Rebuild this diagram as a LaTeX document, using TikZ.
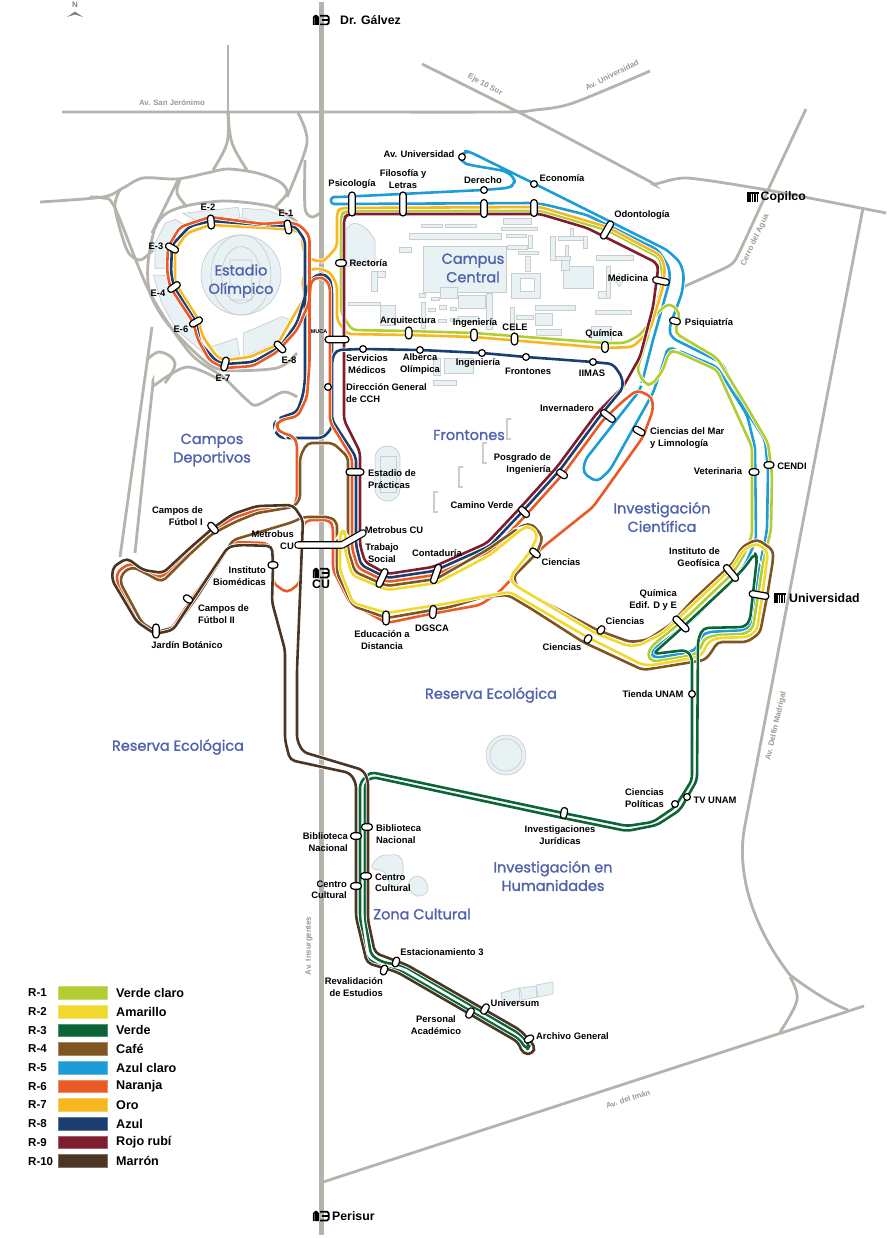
\documentclass[tikz,border=0pt]{standalone}
\usepackage{fontspec}
\setmainfont{Liberation Sans}
\newfontfamily\areafont[FakeBold=1.4]{Poppins}
\usetikzlibrary{shapes.misc}
\definecolor{cOne}{HTML}{B2CD34}
\definecolor{cTwo}{HTML}{F0D82C}
\definecolor{cThree}{HTML}{0B6536}
\definecolor{cFour}{HTML}{7F5522}
\definecolor{cFive}{HTML}{1E9CD7}
\definecolor{cSix}{HTML}{E95A26}
\definecolor{cSeven}{HTML}{F7B71E}
\definecolor{cEight}{HTML}{1B3E70}
\definecolor{cNine}{HTML}{7E1D2E}
\definecolor{cTen}{HTML}{4B3624}
\definecolor{roadgray}{HTML}{B4B3AC}
\definecolor{bldg}{HTML}{E8F2F5}
\definecolor{bldgline}{HTML}{C9CDCC}
\definecolor{areablue}{HTML}{4F62AD}
\tikzset{
  route/.style={draw=#1,line width=2.6pt,line join=round,rounded corners=5pt,
    preaction={draw=white,line width=4.2pt}},
  road/.style={draw=roadgray,line width=2.8pt},
  bld/.style={draw=bldgline,fill=bldg,line width=.7pt},
  capsule/.style n args={2}{rounded rectangle,draw=black,fill=white,line width=1.2pt,
    inner sep=0pt,minimum height=6.4pt,minimum width=#1pt,rotate=#2},
  dot/.style={circle,draw=black,fill=white,line width=1.2pt,inner sep=0pt,minimum size=6.8pt},
  lbl/.style={font=\fontsize{9.4}{11.5}\selectfont\bfseries,inner sep=0pt,align=center},
  lblr/.style={lbl,anchor=east,align=right},
  lbll/.style={lbl,anchor=west,align=left},
  big/.style={font=\fontsize{12.3}{14}\selectfont\bfseries,inner sep=0pt},
  area/.style={font=\fontsize{14.5}{18.5}\selectfont\areafont,text=areablue,inner sep=0pt,align=center},
  street/.style={font=\fontsize{7.8}{9}\selectfont\bfseries,text=roadgray!85!black,inner sep=0pt},
}
% metrobus and metro signs
\newcommand{\mbsign}[1]{\begin{scope}[shift={(#1)}]
\draw[line width=1.7pt,rounded corners=1.6pt] (.8,10)--(.8,.8)--(5,.8)--(5,10) (3,.8)--(3,10);
\draw[line width=1.7pt,rounded corners=1.6pt] (7.2,.8)--(15.8,.8)--(15.8,9.4)--(7.2,9.4) (9,5)--(15.5,5);
\end{scope}}
\newcommand{\metrosign}[1]{\begin{scope}[shift={(#1)}]
\fill (0,0) rectangle (11.5,2);
\foreach \k in {0,2.4,4.8,7.2,9.6}{\fill (\k,0) rectangle ++(1.6,10);}
\end{scope}}
\begin{document}
\begin{tikzpicture}[x=1pt,y=-1pt]
\useasboundingbox (0,0) rectangle (886,1238);
% roads
\draw[draw=roadgray,line width=5.6pt] (321.5,2)--(321.5,1235);
\draw[road] plot[smooth,tension=.5] coordinates {(62,112)(300,112)(500,112)(535,110)(573,103)(650,71)};
\draw[road] plot[smooth,tension=.4] coordinates {(422,64)(530,118)(647,180)(655,184)(687,178)(767,190)(886,213)};
\draw[road] plot[smooth,tension=.3] coordinates {(806,109)(768,190)(737,257)(727,267)(683,287)};
\draw[road] (863,208)--(745,825) .. controls (735,875) and (755,930) .. (790,975) .. controls (810,990) and (830,1003) .. (848,1010);
\draw[road] plot[smooth,tension=.6] coordinates {(790,977)(797,1000)(780,1032)};
\draw[road] (864,1006)--(323,1182);
\draw[road] (228,45)--(228,112);
\draw[road] plot[smooth,tension=.6] coordinates {(228,112)(227,143)(213,170)};
\draw[road] plot[smooth,tension=.6] coordinates {(228,112)(232,143)(247,170)};
\draw[road] plot[smooth,tension=.5] coordinates {(40,202)(103,197)(123,188)(143,178)(177,179)(207,173)(228,169)(257,173)(280,182)(287,193)(275,207)};
\draw[road] plot[smooth,tension=.6] coordinates {(180,180)(177,193)(187,207)};
\draw[road] plot[smooth,tension=.5] coordinates {(297,222)(273,207)(227,201)(190,205)(167,213)(155,228)(148,263)(150,293)(167,323)(200,357)(223,370)(277,368)(297,353)};
\draw[road] (178,180)--(152,233);
\draw[road] plot[smooth,tension=.5] coordinates {(120,190)(115,208)(127,250)(140,260)(153,250)};
\draw[road] plot[smooth,tension=.5] coordinates {(90,197)(103,198)(115,208)(150,293)(190,353)(223,377)(247,400)(257,405)(283,392)(297,397)};
\draw[road] (152,327)--(120,557);
\draw[road] plot[smooth,tension=.5] coordinates {(135,553)(152,393)(155,385)(187,367)(220,380)};
\draw[road] plot[smooth,tension=.7] coordinates {(147,360)(160,352)(175,363)(165,383)};
\draw[road] plot[smooth,tension=.5] coordinates {(298,113)(307,143)(287,197)};
\draw[road] plot[smooth,tension=.5] coordinates {(305,160)(305,208)(312,217)(320,213)};
% buildings of the campus
\begin{scope}[shift={(320,140)},x=.3333pt,y=-.3333pt]
\foreach \ax/\ay/\bx/\by in {305/252/368/262,375/252/470/262,268/280/543/297,550/235/635/252,545/262/652/272,
  560/283/620/292,237/322/275/337,562/315/622/327,625/285/637/325,595/333/655/343,615/350/630/393,
  310/320/558/458,575/400/660/475,830/345/940/360,730/378/820/445,858/378/870/475,835/455/858/475,
  155/395/172/455,172/395/195/413,85/488/180/497,180/495/225/555,362/443/412/475,415/465/497/505,
  500/460/518/568,297/460/317/472,335/472/357/482,357/497/380/507,390/502/410/512,325/505/345/515,
  305/487/315/565,355/537/380/547,390/535/412/545,415/530/475/545,572/503/583/570,590/527/640/538,
  645/495/767/512,645/520/697/557,650/568/723/585,825/510/935/522,815/558/875/605,
  692/290/705/360,705/348/750/360,725/362/748/390,735/315/745/350,715/290/790/302,750/265/760/290,
  790/290/802/325,340/655/362/705,372/655/460/700,340/720/410/735}
  {\draw[bld] (\ax,\ay) rectangle (\bx,\by);}
\draw[bld,fill=white] (600,415) rectangle (643,455);
\draw[bld] (898,400)--(912,420)--(898,440)--(884,420)--cycle;
\draw[bld] (78,380)--(78,270)..controls (90,240) and (130,240) ..(165,300)--(165,370)--cycle;
\end{scope}
% stadium
\begin{scope}[shift={(100,130)},x=.3333pt,y=-.3333pt]
\draw[bld] (248,250)--(415,232)--(420,265)--(285,270)--cycle;
\draw[bld] (428,235)--(500,240)--(580,270)--(605,285)--(500,285)--(425,262)--cycle;
\draw[bld] (165,340)--(195,280)--(225,268)--(255,285)--(215,330)--(210,415)--(165,415)--cycle;
\draw[bld] (160,435)--(205,437)--(225,480)--(290,575)--(300,640)--(335,690)--(230,600)--(185,520)--cycle;
\draw[bld] (335,650)--(410,625)--(420,680)--(360,690)--cycle;
\draw[bld] (430,610)--(545,560)--(575,570)--(530,640)--(430,680)--cycle;
\draw[bld] (423,435) circle (120);
\draw[draw=bldgline,line width=.7pt] (423,435) ellipse (90 and 120) (423,435) ellipse (58 and 85) (390,390) rectangle (455,510);
\end{scope}
% other shapes
\draw[bld,rounded corners=12pt] (375,446) rectangle (400,501);
\draw[bld] (380,456) rectangle (396,492);
\draw[bld] (506,755) circle (20);
\draw[draw=bldgline,line width=.7pt] (506,755) circle (16);
\draw[bld] plot[smooth cycle,tension=.7] coordinates {(388,855)(401,858)(402,878)(392,886)(384,872)(372,868)(378,858)};
\draw[bld] plot[smooth cycle,tension=.7] coordinates {(418,876)(426,882)(427,892)(417,896)(409,888)(410,880)};
\draw[bld] (501,993)--(519,988)--(520,1000)--(503,1006)--cycle (520,988)--(536,986)--(537,997)--(522,1000)--cycle (536,985)--(553,982)--(553,994)--(538,997)--cycle;
\foreach \bx/\by in {507/419,483/443,459/467,434/492}
  {\draw[draw=bldgline,line width=1.3pt] (\bx+4,\by)--(\bx,\by)--(\bx,\by+20)--(\bx+4,\by+20);}
% routes
\draw[route=cFive] (340,204)--(533,203)--(547,205)--(587,215)--(658,250)--(669,267)--(670,280)--(653,340)--(640,390)--(585,460)--(583,473)--(597,482)--(610,470)--(653,393)--(662,367)--(668,347)--(677,350)--(717,367)--(747,415)--(755,447)--(756,540)--(745,565)--(733,580)--(690,622)--(655,648)--(651,654)--(656,658)--(690,652)--(697,648)--(701,636)--(708,632)--(745,630)--(751,624)--(760,565)--(767,530)--(768,470)--(765,440)--(747,412)--(722,363)--(672,338)--(669,330)--(672,320)--(682,293)--(684,275)--(680,262)--(667,250)--(533,183)--(470,152)--(465,151)--(460,157)--(463,163)--(470,165)--(505,171)--(515,178)--(514,185)--(508,188)--(483,190)--(340,197)[rounded corners=3pt]--(331,197)--(331,204)--cycle;
\draw[route=cOne] (345,211)--(341,215)--(341,313)--(352,330)--(408,331)--(474,333)--(605,343)--(625,343)--(640,335)--(660,310)--(670,303)--(680,313)--(675,333)--(717,358)--(747,407)--(768,443)--(772,475)--(771,530)--(763,563)--(753,628)--(745,634)--(717,635)--(705,638)--(698,653)--(688,656)--(652,662)--(647,654)--(653,645)--(687,617)--(733,573)--(745,553)--(752,535)--(752,447)--(717,370)--(675,351)--(669,352)--(663,370)--(652,385)--(645,384)--(637,370)--(653,320)--(663,280)--(660,258)--(607,230)--(540,211)--cycle;
\draw[route=cSeven] (341,208)--(337,212)--(337,247)--(325,260)--(320,262)--(308,258)--(303,250)--(302,235)--(296,230)--(267,228)--(210,225)--(187,233)--(175,250)--(175,283)--(197,317)--(203,337)--(217,357)--(225,360)--(250,357)--(277,345)--(293,317)--(305,297)--(302,280)--(307,271)--(317,268)--(330,272)--(337,285)--(337,320)--(347,334)--(408,335)--(474,337)--(605,348)--(633,347)--(650,330)--(663,287)--(665,267)--(660,255)--(607,227)--(540,207)--cycle;
\draw[route=cNine] (348,214)--(344,218)--(344,420)--(360,452)--(360,545)--(365,562)--(387,574)--(433,567)--(487,543)--(520,508)--(557,467)--(597,413)--(623,387)--(640,357)--(653,307)--(658,270)--(657,263)--(587,228)--(540,214)--cycle;
\draw[route=cEight] (305,240)--(295,226)--(265,225)--(211,221)--(190,226)--(172,245)--(171,273)--(174,287)--(196,322)--(200,343)--(217,362)--(226,364)--(253,362)--(280,347)--(297,323)--(306,293)--(310,280)--(320,273)--(330,278)--(332,290)--(332,428)--(323,438)--(280,438)--(273,428)--(276,420)--(282,417)--(297,412)--(303,395)--(305,380)--cycle;
\draw[route=cEight] (332,360)--(336,350)--(363,349)--(420,350)--(482,353)--(526,357)--(593,362)--(613,364)--(622,377)--(623,388)--(600,416)--(560,470)--(523,511)--(490,546)--(434,571)--(387,578)--(361,565)--(356,545)--(356,457)--(332,420)--cycle;
\draw[route=cSix] (330,287)--(326,279)--(318,277)--(311,281)--(309,303)--(297,330)--(277,352)--(253,366)--(225,368)--(210,361)--(198,340)--(193,322)--(170,287)--(167,270)--(168,247)--(180,227)--(210,217)--(263,224)--(287,222)--(300,225)--(309.5,236)--(309.5,363)--(307,397)--(298,416)--(278,421)--(276,428)--(282,433)--(293,436)--(297,443)--(297,500)--(292,508)--(257,510)--(233,518)--(213,531)--(190,550)--(161,578)--(145,572)--(130,563)--(117,572)--(117,582)--(138,623)--(155,633)--(173,627)--(193,597)--(232,542)--(267,543)--(273,550)--(273,583)--(287,593)--(300,583)--(302,527)--(307,520)--(330,520)--(333,527)--(333,570)--(350,603)--(387,623)--(430,614)--(480,605)--(498,593)--(543,547)--(593,507)--(643,437)--(653,410)--(652,397)--(637,390)--(622,402)--(603,420)--(564,473)--(527,514)--(493,550)--(435,575)--(387,582)--(358,568)--(352,548)--(352,458)--(330,422)--cycle;
\draw[route=cFour] (348,457)--(333,443)--(307,443)--(300,457)--(300,500)--(293,507)--(257,513)--(235,522)--(212,534)--(190,554)--(162,582)--(145,573)--(133,567)--(123,572)--(120,582)--(142,623)--(157,632)--(175,627)--(197,597)--(233,540)--(293,522)--(303,517)--(330,517)--(337,522)--(337,573)--(353,606)--(387,618)--(450,607)--(483,597)--(508,595)--(530,608)--(583,642)--(643,670)--(693,662)--(705,660)--(713,650)--(717,642)--(747,642)--(760,633)--(767,597)--(773,560)--(773,550)--(757,539)--(742,547)--(733,563)--(693,600)--(670,625)--(647,640)--(630,642)--(597,630)--(518,588)--(513,577)--(537,553)--(543,537)--(532,524)--(523,525)--(487,550)--(436,579)--(387,586)--(355,572)--(348,550)--cycle;
\draw[route=cTwo] (340,535)--(343,530)--(346,535)--(345,550)--(352,575)--(387,590)--(437,583)--(490,555)--(523,528)--(530,526)--(538,535)--(530,552)--(510,577)--(513,584)--(595,633)--(628,646)--(640,645)--(663,633)--(687,610)--(733,567)--(743,550)--(757,543)--(768,552)--(762,597)--(757,630)--(748,637)--(717,638)--(708,642)--(702,655)--(693,658)--(653,665)--(643,665)--(587,637)--(510,592)--(480,597)--(450,603)--(387,613)--(353,603)--(340,570)--cycle;
\draw[route=cThree] (692,694)--(692,657)--(686,650)--(653,654)--(683,627)--(730,583)--(745,567)--(755,553)--(757,558)--(750,620)--(745,627)--(703,628)--(698,640)--(697,780)--(680,810)--(657,825)--(627,831)--(563,818)--(372,777)--(365,783)--(365,918)--(371,955)--(382,962)--(404,966)--(520,1034)--(530,1045)--(527,1050)--(519,1039)--(401,971)--(379,966)--(366,958)--(360,918)--(360,783)--(370,772)--(563,813)--(627,826)--(653,822)--(675,807)--(692,780)--cycle;
\draw[route=cTen] (297,670)--(303,520)--(293,505)--(257,506)--(233,514)--(213,528)--(190,548)--(163,573)--(143,570)--(127,558)--(113,567)--(112,580)--(137,622)--(155,634)--(173,630)--(188,607)--(228,547)--(240,545)--(272,546)--(273,565)--(272,602)--(285,650)--(285,740)--(290,760)--(350,773)--(356,783)--(356,917)--(367,963)--(397,972)--(518,1042)--(523,1054)--(533,1054)--(535,1046)--(520,1030)--(407,965)--(375,953)--(368,920)--(368,780)--(363,770)--(303,752)--(297,740)--cycle;
% stops
\node[capsule={14}{100}] (eOne) at (288,227) {};
\node[capsule={14}{95}] (eTwo) at (211,222) {};
\node[capsule={14}{-30}] (eThree) at (172,248) {};
\node[capsule={14}{35}] (eFour) at (174,287) {};
\node[capsule={14}{30}] (eSix) at (196,322) {};
\node[capsule={14}{75}] (eSeven) at (225,364) {};
\node[capsule={14}{-45}] (eEight) at (280,347) {};
\node[capsule={24}{0}] (sMuca) at (337,339.5) {};
\node[capsule={11}{0}] (sRectoria) at (341,263) {};
\node[dot] (sCch) at (328,387) {};
\node[dot] (sServicios) at (363,349) {};
\node[dot] (sAlberca) at (420,350) {};
\node[dot] (sIngDos) at (482,353) {};
\node[dot] (sFrontones) at (526,357) {};
\node[dot] (sIimas) at (593,362) {};
\node[capsule={24}{90}] (sPsico) at (352,204) {};
\node[capsule={24}{90}] (sFilo) at (403,204) {};
\node[capsule={18}{90}] (sDerecho) at (484,208.5) {};
\node[dot] (sDerechoB) at (484,190) {};
\node[dot] (sEcoB) at (534,184) {};
\node[capsule={17}{90}] (sEco) at (534,208) {};
\node[dot] (sAvUni) at (462,157) {};
\node[capsule={20}{60}] (sOdonto) at (607,230) {};
\node[capsule={17}{-12}] (sMedicina) at (661,281) {};
\node[capsule={11}{90}] (sQuimica) at (605,347) {};
\node[capsule={12}{90}] (sArqui) at (408.7,333) {};
\node[capsule={12}{90}] (sIng) at (474,335) {};
\node[capsule={12}{90}] (sCele) at (514.5,339) {};
\node[capsule={11}{-15}] (sPsiq) at (675,321) {};
\node[capsule={17}{-38}] (sInver) at (608,416) {};
\node[capsule={13}{-30}] (sMar) at (639,431) {};
\node[capsule={10}{0}] (sVet) at (754,472) {};
\node[capsule={10}{0}] (sCendi) at (769,465) {};
\node[capsule={20}{-10}] (sUni) at (759,595) {};
\node[capsule={20}{-50}] (sGeo) at (731,573) {};
\node[capsule={20}{-45}] (sEdif) at (681,624) {};
\node[capsule={9}{55}] (sCienA) at (601,630) {};
\node[capsule={9}{55}] (sCienB) at (588,639) {};
\node[capsule={12}{-40}] (sCienC) at (535,553) {};
\node[dot] (sTienda) at (692,694) {};
\node[capsule={13}{-45}] (sCamino) at (524,512) {};
\node[capsule={12}{-35}] (sPosgrado) at (562,474) {};
\node[capsule={20}{70}] (sConta) at (436,574) {};
\node[capsule={20}{65}] (sTrabajo) at (382,578) {};
\node[capsule={18}{0}] (sEstadio) at (355,472) {};
\node[capsule={14}{90}] (sEduca) at (386,618) {};
\node[capsule={13}{85}] (sDgsca) at (433,612) {};
\node[capsule={13}{-50}] (sFutA) at (213,528) {};
\node[capsule={10}{-35}] (sFutB) at (188,599) {};
\node[capsule={14}{90}] (sJardin) at (156,631) {};
\node[capsule={10}{0}] (sBiomed) at (273,565) {};
\node[capsule={11}{0}] (sBibA) at (367,827) {};
\node[capsule={11}{0}] (sBibB) at (356,836) {};
\node[capsule={11}{0}] (sCenA) at (366,876) {};
\node[capsule={11}{0}] (sCenB) at (356,886) {};
\node[capsule={10}{70}] (sEstac) at (396,962) {};
\node[capsule={10}{70}] (sReval) at (384,970) {};
\node[capsule={11}{60}] (sUniv) at (485,1009) {};
\node[capsule={11}{60}] (sPers) at (470,1013) {};
\node[capsule={10}{30}] (sArch) at (529,1039) {};
\node[capsule={11}{80}] (sJurid) at (564,813) {};
\node[dot] (sTv) at (687,797) {};
\node[dot] (sPolit) at (675,804) {};
\coordinate (mbA) at (298,545);
\coordinate (mbB) at (342,545);
\coordinate (mbC) at (363,533);
\draw[black,line width=7.6pt,line cap=round,line join=round] (mbA)--(mbB)--(mbC);
\draw[white,line width=5.2pt,line cap=round,line join=round] (mbA)--(mbB)--(mbC);
% labels of the stops
\node[lbl] (lEOne) at (286,213) {E-1};
\node[lbl] (lETwo) at (208,207) {E-2};
\node[lbl] (lEThree) at (156,246) {E-3};
\node[lbl] (lEFour) at (158,293) {E-4};
\node[lbl] (lESix) at (181,329) {E-6};
\node[lbl] (lESeven) at (223,378) {E-7};
\node[lbl] (lEEight) at (289,360) {E-8};
\node[lbl,font=\fontsize{5.5}{6}\selectfont\bfseries] (lMuca) at (319,332) {MUCA};
\node[lbll] (lRectoria) at (349.5,263) {Rectoría};
\node[lbl] (lPsico) at (352,184) {Psicología};
\node[lbl] (lFilo) at (403,179) {Filosofía y\\Letras};
\node[lbl] (lAvUni) at (419,154) {Av. Universidad};
\node[lbl] (lDerecho) at (483,180) {Derecho};
\node[lbl] (lEco) at (562,178) {Economía};
\node[lbl] (lOdonto) at (642,215) {Odontología};
\node[lbl] (lMedicina) at (628,278) {Medicina};
\node[lbl] (lPsiq) at (709,323) {Psiquiatría};
\node[lbl] (lQuimica) at (604,334) {Química};
\node[lbl] (lCele) at (515,327) {CELE};
\node[lbl] (lIng) at (475,323) {Ingeniería};
\node[lbl] (lArqui) at (408,321) {Arquitectura};
\node[lbl] (lServ) at (367,364) {Servicios\\Médicos};
\node[lbl] (lAlberca) at (420,364) {Alberca\\Olímpica};
\node[lbl] (lIngDos) at (478,363) {Ingeniería};
\node[lbl] (lFrontones) at (528,371) {Frontones};
\node[lbl] (lIimas) at (592,373) {IIMAS};
\node[lbll] (lCch) at (346,393) {Dirección General\\de CCH};
\node[lbl] (lInver) at (567,408) {Invernadero};
\node[lbll] (lMar) at (650,438) {Ciencias del Mar\\y Limnología};
\node[lblr] (lPosgrado) at (551,464) {Posgrado de\\Ingeniería};
\node[lbl] (lCamino) at (482,505) {Camino Verde};
\node[lbl] (lVet) at (718,471) {Veterinaria};
\node[lbl] (lCendi) at (792,466) {CENDI};
\node[lblr] (lGeo) at (720,557) {Instituto de\\Geofísica};
\node[lblr] (lEdif) at (677,600) {Química\\Edif. D y E};
\node[lbl] (lCienC) at (561,562) {Ciencias};
\node[lbl] (lCienA) at (625,621) {Ciencias};
\node[lbl] (lCienB) at (562,647) {Ciencias};
\node[lbl] (lTienda) at (653,694) {Tienda UNAM};
\node[lbll] (lPolit) at (625,798) {Ciencias\\Políticas};
\node[lbl] (lTv) at (715,800) {TV UNAM};
\node[lbll] (lEstadio) at (368,479) {Estadio de\\Prácticas};
\node[lbl] (lMbA) at (394,530) {Metrobus CU};
\node[lbl] (lTrabajo) at (382,553) {Trabajo\\Social};
\node[lbl] (lConta) at (437,553) {Contaduría};
\node[lbl] (lEduca) at (382,640) {Educación a\\Distancia};
\node[lbl] (lDgsca) at (432,628) {DGSCA};
\node[lblr] (lMbB) at (294,540) {Metrobus\\CU};
\node[lblr] (lBiomed) at (266,576) {Instituto\\Biomédicas};
\node[lblr] (lFutA) at (203,516) {Campos de\\Fútbol I};
\node[lbll] (lFutB) at (198,614) {Campos de\\Fútbol II};
\node[lbl] (lJardin) at (187,645) {Jardín Botánico};
\node[lbll] (lBibA) at (376,834) {Biblioteca\\Nacional};
\node[lblr] (lBibB) at (348,842) {Biblioteca\\Nacional};
\node[lbll] (lCenA) at (375,883) {Centro\\Cultural};
\node[lblr] (lCenB) at (347,890) {Centro\\Cultural};
\node[lbl] (lEstac) at (442,952) {Estacionamiento 3};
\node[lblr] (lReval) at (383,987) {Revalidación\\de Estudios};
\node[lbl] (lUniv) at (515,1003) {Universum};
\node[lbl] (lPers) at (436,1025) {Personal\\Académico};
\node[lbll] (lArch) at (536,1036) {Archivo General};
\node[lbl] (lJurid) at (560,835) {Investigaciones\\Jurídicas};
% metro and metrobus
\mbsign{313,15}
\node[big,anchor=west] (lGalvez) at (340,20) {Dr. Gálvez};
\mbsign{313,568}
\node[big] (lCu) at (321,584) {CU};
\mbsign{313,1211}
\node[big,anchor=west] (lPerisur) at (332,1216) {Perisur};
\metrosign{747,192}
\node[big,anchor=west] (lCopilco) at (760.5,197) {Copilco};
\metrosign{774,593}
\node[big,anchor=west] (lUni) at (789,598) {Universidad};
% zones
\node[area] (aEstadio) at (241,281) {Estadio\\Olímpico};
\node[area] (aCampus) at (473,268) {Campus\\Central};
\node[area] (aCampos) at (212,450) {Campos\\Deportivos};
\node[area] (aFrontones) at (469,435) {Frontones};
\node[area] (aCientifica) at (662,517) {Investigación\\Científica};
\node[area] (aReservaA) at (491,695) {Reserva Ecológica};
\node[area] (aReservaB) at (178,747) {Reserva Ecológica};
\node[area] (aHuman) at (553,876) {Investigación en\\Humanidades};
\node[area] (aZona) at (422,914) {Zona Cultural};
% street names
\node[street] (nJeronimo) at (172,103) {Av. San Jerónimo};
\node[street,rotate=-28] (nEje) at (485,85) {Eje 10 Sur};
\node[street,rotate=27] (nUniv) at (612,75) {Av. Universidad};
\node[street,rotate=65] (nCerro) at (755,240) {Cerro del Agua};
\node[street,rotate=77] (nDelfin) at (776,726) {Av. Delfín Madrigal};
\node[street,rotate=90] (nInsur) at (309,946) {Av. Insurgentes};
\node[street,rotate=18] (nIman) at (628,1099) {Av. del Imán};
% north
\node[inner sep=0pt,font=\fontsize{8}{9}\selectfont\bfseries,text=gray] (nNorth) at (75,5) {N};
\fill[gray] (67,17)--(75,11.5)--(83,17)--(75,14.5)--cycle;
% legend
\foreach \rk/\col/\nm [count=\i from 0] in {R-1/cOne/Verde claro,R-2/cTwo/Amarillo,R-3/cThree/Verde,R-4/cFour/Café,R-5/cFive/Azul claro,R-6/cSix/Naranja,R-7/cSeven/Oro,R-8/cEight/Azul,R-9/cNine/Rojo rubí,R-10/cTen/Marrón}{
  \node[fill=\col,draw=\col!70!white,line width=.5pt,minimum width=48.6pt,minimum height=12.6pt,inner sep=0pt] (sw\i) at (83,{993+18.67*\i}) {};
  \node[font=\fontsize{11.5}{13}\selectfont\bfseries,inner sep=0pt,anchor=west] (rk\i) at (28,{993+18.67*\i}) {\rk};
  \node[font=\fontsize{12.6}{14}\selectfont\bfseries,inner sep=0pt,anchor=west] (nm\i) at (116,{993+18.67*\i}) {\nm};
}
\end{tikzpicture}
\end{document}
